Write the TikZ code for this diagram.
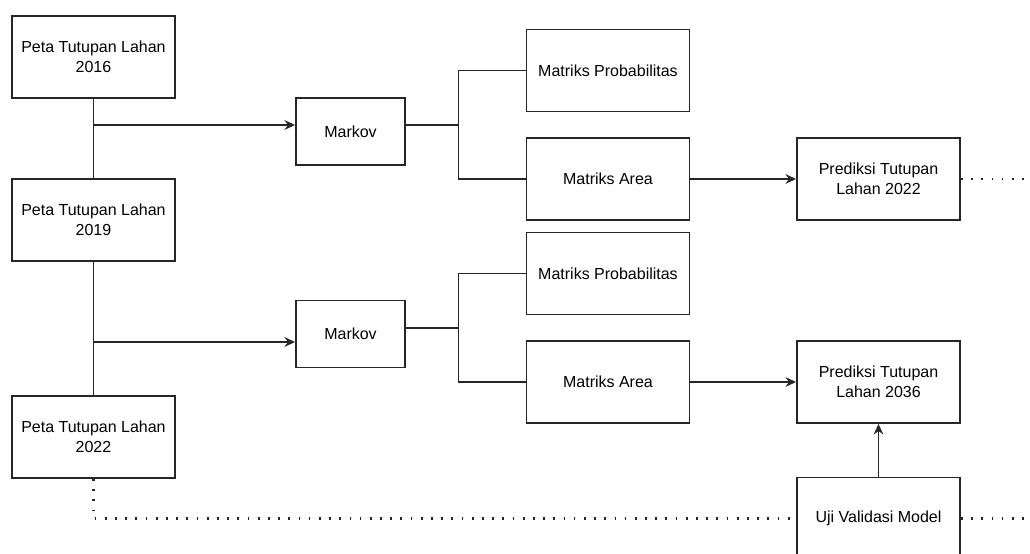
\documentclass[tikz,border=0pt]{standalone}
\usepackage{fontspec}
\setmainfont{Liberation Sans}
\usetikzlibrary{arrows.meta,calc}

\begin{document}
\begin{tikzpicture}[line width=1.05pt, draw=black!85,
  box/.style={draw, align=center, inner sep=0pt, minimum width=3.26cm, minimum height=1.64cm,
    font=\fontsize{9.1}{11.3}\selectfont},
  markovbox/.style={box, minimum width=2.18cm, minimum height=1.34cm},
  arr/.style={-{Stealth[length=6pt,width=5.5pt]}},
  dotline/.style={dash pattern=on 1pt off 4.8pt, line width=1.4pt}]

  % --- Rahmen ---
  \useasboundingbox (0,0) rectangle (20.6,-11.08);

  % --- Parameter ---
  \def\branchx{9.17}   % x der Verzweigung hinter Markov
  \def\rightend{20.6}  % rechter Rand der punktierten Linien

  % --- Spalte 1: Peta Tutupan Lahan ---
  \node (peta16) at (1.87,-1.14) [box] {Peta Tutupan Lahan\\2016};
  \node (peta19) at (1.87,-4.40) [box] {Peta Tutupan Lahan\\2019};
  \node (peta22) at (1.87,-8.74) [box] {Peta Tutupan Lahan\\2022};

  % --- Spalte 2: Markov ---
  \node (markov1) at (7.01,-2.63) [markovbox] {Markov};
  \node (markov2) at (7.01,-6.68) [markovbox] {Markov};

  % --- Spalte 3: Matriks ---
  \node (mp1) at (12.16,-1.41) [box] {Matriks Probabilitas};
  \node (ma1) at (12.16,-3.58) [box] {Matriks Area};
  \node (mp2) at (12.16,-5.47) [box] {Matriks Probabilitas};
  \node (ma2) at (12.16,-7.64) [box] {Matriks Area};

  % --- Spalte 4: Prediksi + Uji ---
  \node (pred22) at (17.57,-3.58)  [box] {Prediksi Tutupan\\Lahan 2022};
  \node (pred36) at (17.57,-7.64)  [box] {Prediksi Tutupan\\Lahan 2036};
  \node (uji)    at (17.57,-10.37) [box] {Uji Validasi Model};

  % --- Hilfspunkte ---
  \coordinate (j1) at (1.87,-2.50);
  \coordinate (j2) at (1.87,-6.84);
  \coordinate (b1) at (\branchx,-2.50);
  \coordinate (b2) at (\branchx,-6.56);
  \coordinate (e1) at (\rightend,-3.58);
  \coordinate (e2) at (\rightend,-10.37);

  % --- Verbindungen Peta -> Markov ---
  \draw (peta16) -- (peta19);
  \draw (peta19) -- (peta22);
  \draw[arr] (j1) -- (j1 -| markov1.west);
  \draw[arr] (j2) -- (j2 -| markov2.west);

  % --- Verzweigung Markov -> Matriks ---
  \draw (j1 -| markov1.east) -- (b1);
  \draw (mp1.west) -| (b1) |- (ma1.west);
  \draw (b2 -| markov2.east) -- (b2);
  \draw (mp2.west) -| (b2) |- (ma2.west);

  % --- Matriks Area -> Prediksi ---
  \draw[arr] (ma1) -- (pred22);
  \draw[arr] (ma2) -- (pred36);
  \draw[arr] (uji) -- (pred36);

  % --- punktierte Linien ---
  \draw[dotline] (pred22.east) -- (e1);
  \draw[dotline] (peta22.south) |- (uji.west);
  \draw[dotline] (uji.east) -- (e2);

\end{tikzpicture}
\end{document}
